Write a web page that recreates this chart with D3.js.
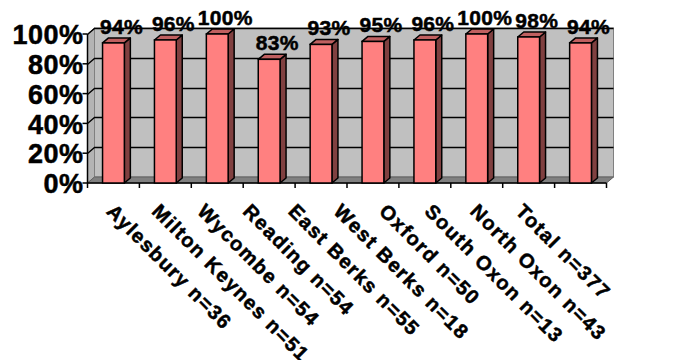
<!DOCTYPE html>
<html>
<head>
<meta charset="utf-8">
<script src="https://cdn.jsdelivr.net/npm/d3@7"></script>
<style>
  body { margin: 0; background: #fff; }
  text { font-family: "Liberation Sans", Arial, sans-serif; font-weight: bold; fill: #000;
         stroke: #000; stroke-width: 0.5px; }
</style>
</head>
<body>
<div id="container"></div>
<script>
var categories = ["Aylesbury n=36", "Milton Keynes n=51", "Wycombe n=54", "Reading n=54",
                  "East Berks n=55", "West Berks n=18", "Oxford n=50", "South Oxon n=13",
                  "North Oxon n=43", "Total n=377"];
var values = [0.94, 0.96, 1.00, 0.83, 0.93, 0.95, 0.96, 1.00, 0.98, 0.94];
var yTicks = [0, 0.2, 0.4, 0.6, 0.8, 1.0];

var width = 680, height = 360;
var depthX = 7, depthY = -6;      // wall depth
var barDX = 6, barDY = -5;        // bar depth

function drawChart() {
    var svg = d3.select("#container")
      .append("svg")
        .attr("width", width)
        .attr("height", height);

    var x = d3.scaleBand()
        .domain(categories)
        .range([87.5, 606.5]);

    var y = d3.scaleLinear()
        .domain([0, 1])
        .range([183, 34]);

    // label positions along the bottom (Excel packs them a bit tighter than the ticks)
    var xLabel = d3.scalePoint()
        .domain(categories)
        .range([116, 525]);

    var x0 = x.range()[0], x1 = x.range()[1];
    var y0 = y(0), yTop = y(1);

    // back wall
    svg.append("rect")
        .attr("x", x0 + depthX)
        .attr("y", yTop + depthY)
        .attr("width", x1 - x0)
        .attr("height", y0 - yTop)
        .attr("fill", "#c0c0c0")
        .attr("stroke", "#808080");

    // left wall
    svg.append("polygon")
        .attr("points", [[x0, yTop], [x0 + depthX, yTop + depthY], [x0 + depthX, y0 + depthY], [x0, y0]].join(" "))
        .attr("fill", "#b4b4b4")
        .attr("stroke", "#808080");

    // floor
    svg.append("polygon")
        .attr("points", [[x0, y0], [x0 + depthX, y0 + depthY], [x1 + depthX, y0 + depthY], [x1, y0]].join(" "))
        .attr("fill", "#808080")
        .attr("stroke", "#606060");

    // gridlines (on left wall and back wall)
    svg.selectAll(".grid")
        .data(yTicks.filter(function(d) { return d > 0; }))
        .enter()
        .append("path")
        .attr("class", "grid")
        .attr("d", function(d) {
            var yy = Math.round(y(d)) + 0.5;
            return "M" + x0 + "," + yy + "L" + (x0 + depthX) + "," + (yy + depthY) +
                   "L" + (x1 + depthX) + "," + (yy + depthY);
        })
        .attr("fill", "none")
        .attr("stroke", "#000")
        .attr("stroke-width", 1.3);

    // y axis
    svg.append("line")
        .attr("x1", x0).attr("x2", x0)
        .attr("y1", yTop).attr("y2", y0)
        .attr("stroke", "#000").attr("stroke-width", 1.5);

    svg.selectAll(".ytick")
        .data(yTicks)
        .enter()
        .append("line")
        .attr("class", "ytick")
        .attr("x1", x0 - 5).attr("x2", x0)
        .attr("y1", function(d) { return y(d); })
        .attr("y2", function(d) { return y(d); })
        .attr("stroke", "#000").attr("stroke-width", 1.5);

    svg.selectAll(".ylab")
        .data(yTicks)
        .enter()
        .append("text")
        .attr("class", "ylab")
        .attr("x", x0 - 4)
        .attr("y", function(d) { return y(d); })
        .attr("dy", "0.38em")
        .attr("text-anchor", "end")
        .style("font-size", "27px")
        .style("letter-spacing", "0.5px")
        .text(d3.format(".0%"));

    // x axis
    svg.append("line")
        .attr("x1", x0).attr("x2", x1)
        .attr("y1", y0).attr("y2", y0)
        .attr("stroke", "#000").attr("stroke-width", 1.5);

    var edges = categories.map(function(c) { return x(c); }).concat([x1]);
    svg.selectAll(".xtick")
        .data(edges)
        .enter()
        .append("line")
        .attr("class", "xtick")
        .attr("x1", function(d) { return d; })
        .attr("x2", function(d) { return d; })
        .attr("y1", y0).attr("y2", y0 + 5)
        .attr("stroke", "#000").attr("stroke-width", 1.5);

    // bars
    var bw = x.bandwidth() * 0.42;
    var bars = svg.selectAll(".bar")
        .data(values)
        .enter()
        .append("g")
        .attr("class", "bar");

    function bx(d, i) { return x(categories[i]) + x.bandwidth() / 2 - bw / 2; }

    bars.append("polygon")
        .attr("points", function(d, i) {
            var l = bx(d, i), r = l + bw, t = y(d);
            return [[r, t], [r + barDX, t + barDY], [r + barDX, y0 + barDY], [r, y0]].join(" ");
        })
        .attr("fill", "#804040")
        .attr("stroke", "#000")
        .attr("stroke-width", 1.5)
        .attr("stroke-linejoin", "round");

    bars.append("polygon")
        .attr("points", function(d, i) {
            var l = bx(d, i), r = l + bw, t = y(d);
            return [[l, t], [l + barDX, t + barDY], [r + barDX, t + barDY], [r, t]].join(" ");
        })
        .attr("fill", "#c06060")
        .attr("stroke", "#000")
        .attr("stroke-width", 1.5)
        .attr("stroke-linejoin", "round");

    bars.append("rect")
        .attr("x", bx)
        .attr("y", function(d) { return y(d); })
        .attr("width", bw)
        .attr("height", function(d) { return y0 - y(d); })
        .attr("fill", "#ff8080")
        .attr("stroke", "#000")
        .attr("stroke-width", 1.5);

    // value labels
    svg.selectAll(".vlab")
        .data(values)
        .enter()
        .append("text")
        .attr("class", "vlab")
        .attr("x", function(d, i) { return x(categories[i]) + x.bandwidth() / 2 + 8; })
        .attr("y", function(d) { return y(d) - 9; })
        .attr("text-anchor", "middle")
        .style("font-size", "21px")
        .style("letter-spacing", "0.3px")
        .text(d3.format(".0%"));

    // category labels, rotated
    svg.selectAll(".xlab")
        .data(categories)
        .enter()
        .append("text")
        .attr("class", "xlab")
        .attr("transform", function(d) {
            return "translate(" + xLabel(d) + ",202) rotate(45)";
        })
        .attr("dy", "0.75em")
        .style("font-size", "20px")
        .style("letter-spacing", "1.4px")
        .text(function(d) { return d; });
}

drawChart();
</script>
</body>
</html>
